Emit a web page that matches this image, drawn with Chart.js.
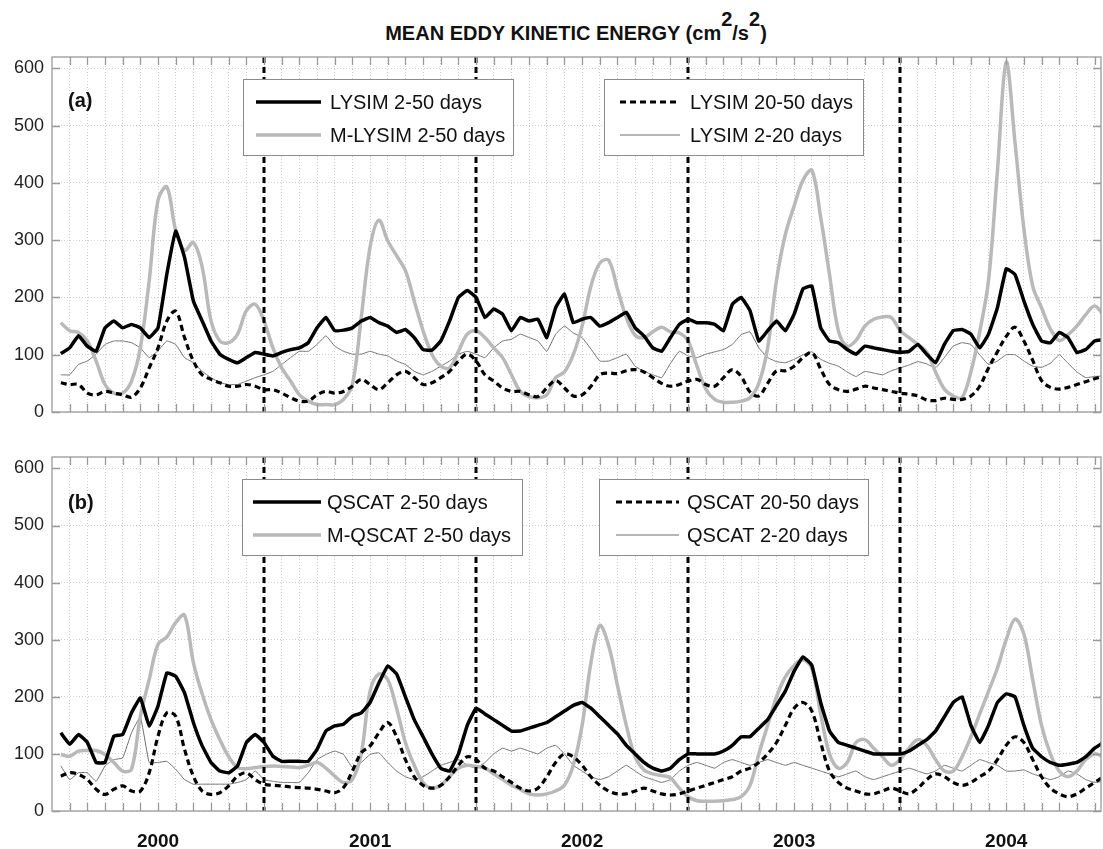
<!DOCTYPE html>
<html>
<head>
<meta charset="utf-8">
<script src="https://cdn.jsdelivr.net/npm/chart.js@4.4.0/dist/chart.umd.min.js"></script>
<style>
  body { margin: 0; background: #fff; width: 1103px; height: 849px; overflow: hidden; position: relative; font-family: "Liberation Sans", Arial, sans-serif; }
  #title { position: absolute; left: 0; top: 23px; width: 1152px; text-align: center; font-size: 20px; font-weight: bold; line-height: 20px; color: #111; }
  #title sup { font-size: 100%; vertical-align: baseline; position: relative; top: -14px; }
  canvas { position: absolute; left: 0; }
</style>
</head>
<body>
<div id="title">MEAN EDDY KINETIC ENERGY (cm<sup>2</sup>/s<sup>2</sup>)</div>
<canvas id="panelA" width="1103" height="430" style="top:0"></canvas>
<canvas id="panelB" width="1103" height="419" style="top:430px"></canvas>
<script>
// half-month samples, first one half a month after July 1999
const lysim = [102,112,133,115,106,147,159,147,153,147, 130,147,241,316,270,194,159,124,101,92,
  86,95,104,101,98,104,109,112,121,147, 165,142,143,147,159,165,156,150,139,144,
  130,109,108,124,159,200,212,200,165,180, 171,142,165,159,162,130,182,206,156,162,
  165,150,156,165,174,147,133,112,106,130, 153,162,156,156,153,142,188,200,177,124,
  142,159,142,171,215,220,147,124,121,109, 101,115,112,109,106,104,106,118,101,86,
  118,142,144,136,112,136,182,250,240,194, 153,124,121,139,130,104,109,124,126];
const mLysim = [156,142,139,124,89,48,33,33,54,112, 229,370,393,317,282,296,253,159,124,121,
  136,177,188,159,112,77,54,30,19,13, 13,13,22,48,165,288,335,299,273,247,
  194,142,101,80,77,106,136,142,130,112, 95,65,36,27,25,30,60,70,100,150,
  220,260,265,215,165,134,130,140,148,140, 138,124,80,40,22,17,17,19,25,50,
  112,230,310,360,405,422,340,240,142,115, 125,150,162,166,165,142,130,118,105,70,
  40,28,25,70,140,230,420,611,470,320, 220,182,145,125,135,150,170,185,170];
const lysim2050 = [51,48,48,33,30,36,33,30,26,42, 77,112,159,176,130,89,65,57,51,45,
  45,48,45,39,39,33,25,19,19,30, 36,33,36,45,57,48,39,51,65,71,
  60,48,51,60,71,89,101,89,65,54, 42,36,36,30,27,42,55,42,28,30,
  45,65,68,67,72,74,70,60,50,45, 48,54,57,48,45,60,74,62,35,28,
  50,72,72,80,95,104,75,48,39,36, 40,45,42,39,36,33,31,28,21,20,
  24,22,22,28,45,77,105,132,148,124, 90,55,43,40,43,48,53,58,63];
const lysim220 = [65,65,83,89,101,118,124,124,121,112, 95,107,124,118,95,86,71,60,51,48,
  48,54,60,65,71,83,95,106,106,118, 133,115,106,101,101,106,101,98,89,83,
  71,65,71,80,89,101,106,101,95,112, 124,127,136,130,124,106,136,150,138,130,
  110,89,89,95,101,80,71,65,60,85, 106,98,95,101,105,109,118,135,140,112,
  95,88,86,92,100,105,92,85,80,70, 62,71,68,65,72,77,82,88,84,77,
  95,115,121,118,100,83,89,100,100,89, 80,78,85,100,85,70,60,62,63];

const qscat = [137,117,134,120,85,85,131,134,172,198, 149,184,242,236,207,155,114,85,70,67,
  79,120,134,120,96,87,87,87,87,108, 140,149,152,166,172,190,224,254,240,200,
  160,130,100,75,70,100,150,180,170,160, 150,140,140,145,150,155,165,175,185,190,
  180,165,150,135,115,100,85,75,70,75, 90,100,100,100,100,105,115,130,130,145,
  160,185,210,245,270,255,190,140,120,115, 110,105,100,100,100,100,105,115,125,140,
  165,190,200,150,120,150,190,205,200,150, 110,95,85,80,82,85,95,110,120];
const mQscat = [99,96,105,106,106,99,85,70,73,166, 230,292,305,330,343,260,205,160,125,95,
  76,74,76,78,79,78,77,76,80,85, 75,61,50,55,100,210,240,230,180,120,
  80,50,40,45,60,75,80,78,75,65, 55,45,38,30,28,30,35,45,80,150,
  260,325,290,220,150,95,72,65,62,58, 40,25,18,17,17,18,20,25,45,100,
  150,200,235,255,265,250,170,100,75,85, 120,125,110,95,80,90,110,125,115,90,
  70,70,95,130,170,210,250,300,336,310, 230,150,100,70,60,70,90,100,95];
const qscat2050 = [61,67,64,55,38,29,38,44,35,35, 67,131,172,166,108,61,35,29,32,44,
  61,67,55,47,45,44,42,41,40,38, 35,32,41,70,102,114,137,155,130,90,
  60,45,40,45,60,80,95,90,75,70, 60,50,40,35,40,60,85,100,95,80,
  60,45,35,30,30,35,40,35,30,28, 30,35,40,45,50,55,60,70,75,85,
  100,120,150,180,190,175,120,70,50,40, 35,30,30,35,40,35,30,40,55,65,
  60,50,45,50,60,70,90,115,130,120, 90,60,40,30,25,30,40,50,60];
const qscat220 = [79,55,67,67,52,79,90,93,137,165, 85,85,87,73,55,47,47,47,47,47,
  50,55,70,55,52,50,50,50,67,90, 99,105,99,76,85,99,102,85,70,60,
  55,60,70,80,85,90,80,75,85,100, 110,105,110,105,100,110,115,100,80,70,
  60,55,60,70,80,70,60,55,50,55, 70,80,85,80,75,85,90,85,80,85,
  90,85,80,85,80,75,70,65,60,65, 70,60,55,60,65,70,75,70,65,70,
  80,75,70,80,90,85,80,70,70,72, 65,60,55,60,70,65,55,50,52];

const years = [2000, 2001, 2002, 2003, 2004];
const yearBreaks = [2000.5, 2001.5, 2002.5, 2003.5];
const yTicks = [0, 100, 200, 300, 400, 500, 600];
const xMin = 1999.5, xMax = 2004.447, yMax = 620;

const monthTicks = [];
for (let k = 1; k < 60; k++) monthTicks.push(xMin + k / 12);
const timeOf = i => xMin + (0.5 + i * 0.5) / 12;

const GRAY = '#b9b9b9', THIN = '#6e6e6e';
const FONT = '"Liberation Sans", Arial, sans-serif';

function series(label, values, color, width, dash, tension) {
  return {
    label, borderColor: color, borderWidth: width, borderDash: dash, tension,
    pointRadius: 0, fill: false, borderCapStyle: 'butt', borderJoinStyle: 'round',
    data: values.map((v, i) => ({ x: timeOf(i), y: v }))
  };
}

const panelDecor = {
  id: 'panelDecor',
  afterDatasetsDraw(chart) {
    const { ctx, chartArea: a, scales: { x } } = chart;
    ctx.save();
    ctx.strokeStyle = '#000';
    ctx.lineWidth = 3;
    ctx.setLineDash([6, 4]);
    yearBreaks.forEach(v => {
      const px = Math.round(x.getPixelForValue(v));
      ctx.beginPath(); ctx.moveTo(px, a.top); ctx.lineTo(px, a.bottom); ctx.stroke();
    });
    ctx.restore();
  },
  afterDraw(chart, args, o) {
    const { ctx, chartArea: a, scales: { x, y } } = chart;
    ctx.save();
    // frame and inward ticks
    ctx.strokeStyle = '#9a9a9a';
    ctx.lineWidth = 1.3;
    ctx.strokeRect(a.left, a.top, a.right - a.left, a.bottom - a.top);
    ctx.beginPath();
    monthTicks.forEach(v => {
      const px = Math.round(x.getPixelForValue(v)) + 0.5;
      ctx.moveTo(px, a.top); ctx.lineTo(px, a.top + 8);
      ctx.moveTo(px, a.bottom); ctx.lineTo(px, a.bottom - 8);
    });
    yTicks.forEach(v => {
      const py = Math.round(y.getPixelForValue(v)) + 0.5;
      ctx.moveTo(a.left, py); ctx.lineTo(a.left + 8, py);
      ctx.moveTo(a.right, py); ctx.lineTo(a.right - 8, py);
    });
    ctx.stroke();

    // panel letter
    ctx.fillStyle = '#111';
    ctx.font = 'bold 20px ' + FONT;
    ctx.textBaseline = 'middle';
    ctx.fillText(o.letter, 68, o.letterY);

    // legend boxes
    const ds = chart.data.datasets;
    ctx.font = '20px ' + FONT;
    o.boxes.forEach(b => {
      ctx.fillStyle = '#fff';
      ctx.fillRect(b.x, b.y, b.w, b.h);
      ctx.strokeStyle = '#8c8c8c';
      ctx.lineWidth = 1;
      ctx.setLineDash([]);
      ctx.strokeRect(b.x + 0.5, b.y + 0.5, b.w, b.h);
      b.items.forEach((idx, r) => {
        const d = ds[idx];
        const ry = b.y + b.rows[r];
        ctx.strokeStyle = d.borderColor;
        ctx.lineWidth = d.borderWidth;
        ctx.setLineDash(d.borderDash || []);
        ctx.beginPath(); ctx.moveTo(b.sx0, ry); ctx.lineTo(b.sx1, ry); ctx.stroke();
        ctx.setLineDash([]);
        ctx.fillStyle = '#111';
        ctx.fillText(d.label, b.tx, ry + 1);
      });
    });
    ctx.restore();
  }
};

function makePanel(id, names, data, opt) {
  return new Chart(document.getElementById(id), {
    type: 'line',
    data: {
      datasets: [
        series(names[0], data[0], '#000', 3.5, [], 0.1),
        series(names[2], data[2], '#000', 3.2, [6, 4], 0.35),
        series(names[1], data[1], GRAY, 3.5, [], 0.35),
        series(names[3], data[3], THIN, 1, [], 0.1)
      ]
    },
    options: {
      responsive: false,
      animation: false,
      layout: { padding: { top: opt.top, right: 2, left: 0, bottom: 0 } },
      plugins: {
        legend: { display: false },
        tooltip: { enabled: false },
        panelDecor: opt.decor
      },
      scales: {
        x: {
          type: 'linear', min: xMin, max: xMax,
          afterBuildTicks: s => { s.ticks = monthTicks.map(v => ({ value: v })); },
          afterFit: s => { s.height = opt.xh; s.paddingLeft = 0; s.paddingRight = 0; },
          grid: { color: '#cfcfcf', lineWidth: 1, drawTicks: false },
          border: { display: false, dash: [1, 2] },
          ticks: {
            display: opt.showYears, autoSkip: false, maxRotation: 0, padding: 19,
            color: '#111', font: { family: FONT, size: 19, weight: 'bold' },
            callback: v => { const yr = years.find(t => Math.abs(t - v) < 0.01); return yr ? String(yr) : ''; }
          }
        },
        y: {
          min: 0, max: yMax,
          afterBuildTicks: s => { s.ticks = yTicks.map(v => ({ value: v })); },
          afterFit: s => { s.width = 52; s.paddingTop = 0; s.paddingBottom = 0; },
          grid: { color: '#cfcfcf', lineWidth: 1, drawTicks: false },
          border: { display: false, dash: [1, 2] },
          ticks: { padding: 8, color: '#222', font: { family: FONT, size: 18 } }
        }
      }
    },
    plugins: [panelDecor]
  });
}

makePanel('panelA',
  ['LYSIM 2-50 days', 'M-LYSIM 2-50 days', 'LYSIM 20-50 days', 'LYSIM 2-20 days'],
  [lysim, mLysim, lysim2050, lysim220],
  {
    top: 57, xh: 18, showYears: false,
    decor: {
      letter: '(a)', letterY: 101,
      boxes: [
        { x: 243, y: 79, w: 270, h: 76, rows: [23, 56], items: [0, 2], sx0: 256, sx1: 321, tx: 330 },
        { x: 604, y: 79, w: 259, h: 76, rows: [23, 56], items: [1, 3], sx0: 620, sx1: 680, tx: 690 }
      ]
    }
  });

makePanel('panelB',
  ['QSCAT 2-50 days', 'M-QSCAT 2-50 days', 'QSCAT 20-50 days', 'QSCAT 2-20 days'],
  [qscat, mQscat, qscat2050, qscat220],
  {
    top: 27, xh: 38, showYears: true,
    decor: {
      letter: '(b)', letterY: 73,
      boxes: [
        { x: 242, y: 49, w: 280, h: 76, rows: [23, 56], items: [0, 2], sx0: 253, sx1: 321, tx: 327 },
        { x: 599, y: 49, w: 269, h: 76, rows: [23, 56], items: [1, 3], sx0: 616, sx1: 679, tx: 687 }
      ]
    }
  });
</script>
</body>
</html>
